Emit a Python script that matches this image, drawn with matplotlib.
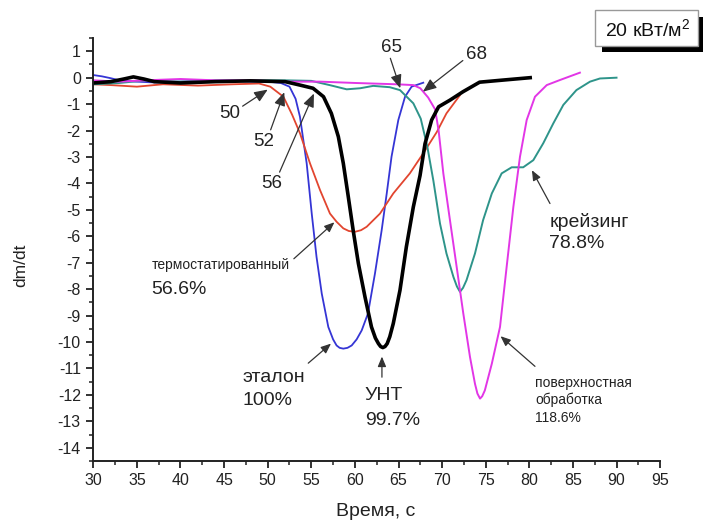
import matplotlib.pyplot as plt
from matplotlib.patches import Rectangle
from matplotlib.ticker import MultipleLocator

plt.rcParams['font.family'] = ['Liberation Sans', 'DejaVu Sans']
plt.rcParams['mathtext.default'] = 'regular'
plt.rcParams['axes.unicode_minus'] = False
plt.rcParams['lines.solid_joinstyle'] = 'round'

# эталон (blue)
etalon_t = [30, 31, 32, 33, 35, 37, 40, 43, 46, 48, 50, 51.5, 52.5, 53.2, 53.7, 54.47, 55.05, 55.6, 56.2, 56.95,
            57.5, 57.9, 58.25, 58.67, 59.15, 59.63, 60.2, 60.78, 61.5, 62.3, 63.07, 63.65, 64.2, 64.98, 65.75, 66.5, 67.84]
etalon_v = [0.1, 0.05, -0.02, -0.1, -0.15, -0.18, -0.15, -0.12, -0.12, -0.15, -0.15, -0.2, -0.34, -0.8, -1.48, -3.24, -5.14, -6.78, -8.17, -9.43,
            -9.9, -10.13, -10.22, -10.25, -10.22, -10.13, -9.9, -9.56, -8.92, -7.41, -5.77, -4.38, -2.99, -1.6, -0.72, -0.34, -0.19]

# УНТ (black)
unt_t = [30, 32, 33.5, 34.6, 35.8, 37, 40, 44, 48, 52, 53.7, 55.2, 56.4, 57.3, 58.1, 58.67, 59.24, 59.8, 60.4, 61.16,
         61.9, 62.35, 62.7, 62.95, 63.2, 63.45, 63.7, 64.0, 64.4, 65.17, 65.9, 66.7, 67.47, 68.04, 68.8, 69.6, 70.9, 72.4, 74.3, 77.0, 80.1]
unt_v = [-0.2, -0.15, -0.05, 0.03, -0.05, -0.15, -0.2, -0.15, -0.12, -0.15, -0.28, -0.4, -0.72, -1.35, -2.23, -3.24, -4.5, -5.77, -7.03, -8.3,
         -9.43, -9.85, -10.06, -10.17, -10.21, -10.17, -10.06, -9.8, -9.3, -8.04, -6.4, -4.89, -3.7, -2.5, -1.6, -1.1, -0.85, -0.53, -0.17, -0.09, 0.0]

# термостатированный (red)
termo_t = [30, 32, 35, 38, 42, 46, 49, 50.3, 51.8, 52.8, 53.7, 54.85, 56.0, 57.14, 57.9, 58.67, 59.3, 60.0, 60.7, 61.35, 62.88,
           64.4, 66.3, 67.84, 69.4, 70.5, 72.05]
termo_v = [-0.25, -0.28, -0.34, -0.25, -0.3, -0.25, -0.22, -0.34, -0.72, -1.4, -2.1, -3.24, -4.25, -5.14, -5.45, -5.7, -5.8, -5.83, -5.77, -5.64, -5.14,
           -4.38, -3.62, -2.86, -2.05, -1.35, -0.66]

# крейзинг (teal)
craze_t = [30, 33, 36, 40, 44, 48, 52, 55, 57.1, 59.06, 60.6, 62.1, 64.0, 65.17, 66.7, 67.55, 68.3, 69.0, 69.76, 70.5,
           71.3, 71.7, 72.05, 72.4, 72.8, 73.77, 74.7, 75.7, 76.83, 77.98, 79.3, 80.46, 81.6, 82.75, 83.9, 85.4, 86.96, 88.1, 90.0]
craze_v = [-0.25, -0.2, -0.1, -0.15, -0.1, -0.1, -0.1, -0.12, -0.28, -0.44, -0.4, -0.31, -0.36, -0.47, -0.97, -1.55, -2.6, -3.9, -5.52, -6.65,
           -7.54, -7.9, -8.1, -7.95, -7.66, -6.65, -5.39, -4.38, -3.62, -3.39, -3.39, -3.12, -2.48, -1.73, -1.03, -0.47, -0.15, -0.03, 0.0]

# поверхностная обработка (magenta)
surf_t = [30, 33, 36, 40, 44, 48, 52, 56, 60, 64.8, 66.7, 67.5, 68.4, 69.2, 69.6, 70.14, 70.9, 71.67, 72.43, 73.2, 73.77,
          74.05, 74.35, 74.6, 74.9, 75.7, 76.64, 77.4, 78.17, 78.93, 79.7, 80.65, 82.0, 83.5, 85.8]
surf_v = [-0.1, -0.15, -0.1, -0.05, -0.1, -0.1, -0.15, -0.15, -0.2, -0.25, -0.28, -0.4, -0.75, -1.2, -2.0, -3.62, -5.39, -7.16, -8.92, -10.57, -11.58,
          -11.95, -12.14, -12.05, -11.83, -10.82, -9.43, -7.16, -4.89, -2.99, -1.6, -0.72, -0.28, -0.09, 0.19]

fig = plt.figure(figsize=(7.03, 5.21), dpi=100)
ax = fig.add_axes([0.1327, 0.1152, 0.8063, 0.8118])

ax.plot(etalon_t, etalon_v, color='#3535d5', lw=1.3)
ax.plot(termo_t, termo_v, color='#e2452f', lw=1.3)
ax.plot(craze_t, craze_v, color='#2e948a', lw=1.4)
ax.plot(surf_t, surf_v, color='#e236e6', lw=1.4)
ax.plot(unt_t, unt_v, color='black', lw=2.6)

ax.set_xlim(30, 95)
ax.set_ylim(-14.5, 1.5)
ax.xaxis.set_major_locator(MultipleLocator(5))
ax.xaxis.set_minor_locator(MultipleLocator(2.5))
ax.yaxis.set_minor_locator(MultipleLocator(0.5))
ax.set_yticks(range(-14, 2))
ax.spines['top'].set_visible(False)
ax.spines['right'].set_visible(False)
for s in ['left', 'bottom']:
    ax.spines[s].set_linewidth(1.4)
    ax.spines[s].set_color('#222222')
ax.tick_params(which='major', direction='out', length=5, width=1.3, labelsize=11.5, colors='#222222', pad=4)
ax.tick_params(which='minor', direction='out', length=3, width=1.1, colors='#222222')

fig.text(0.029, 0.49, 'dm/dt', rotation=90, fontsize=12.5, ha='center', va='center', color='#222222')
fig.text(0.535, 0.018, 'Время, с', fontsize=14, ha='center', va='center', color='#222222')

arrow = dict(arrowstyle='-|>,head_length=0.6,head_width=0.25', color='#333333', lw=0.9, shrinkA=0, shrinkB=0)
tc = '#222222'
big = 14
small = 10
ax.annotate('50', xy=(50.0, -0.45), xytext=(45.6, -1.34), fontsize=13.5, color=tc, ha='center', va='center',
            arrowprops=dict(arrow, relpos=(1.0, 0.8)))
ax.annotate('52', xy=(51.9, -0.55), xytext=(49.5, -2.4), fontsize=13.5, color=tc, ha='center', va='center',
            arrowprops=dict(arrow, relpos=(0.8, 1.0)))
ax.annotate('56', xy=(55.3, -0.6), xytext=(50.5, -4.0), fontsize=13.5, color=tc, ha='center', va='center',
            arrowprops=dict(arrow, relpos=(0.8, 1.0)))
ax.annotate('65', xy=(65.2, -0.4), xytext=(64.2, 1.16), fontsize=13.5, color=tc, ha='center', va='center',
            arrowprops=dict(arrow, relpos=(0.4, 0.0)))
ax.annotate('68', xy=(67.8, -0.53), xytext=(73.9, 0.86), fontsize=13.5, color=tc, ha='center', va='center',
            arrowprops=dict(arrow, relpos=(0.0, 0.3)))

ax.annotate('', xy=(57.65, -5.47), xytext=(53.0, -6.85), arrowprops=arrow)
ax.text(36.7, -7.1, 'термостатированный', fontsize=small, color=tc, ha='left', va='center')
ax.text(36.7, -8.0, '56.6%', fontsize=big, color=tc, ha='left', va='center')

ax.annotate('', xy=(57.26, -10.06), xytext=(54.65, -10.8), arrowprops=arrow)
ax.text(47.1, -11.33, 'эталон', fontsize=big, color=tc, ha='left', va='center')
ax.text(47.1, -12.2, '100%', fontsize=big, color=tc, ha='left', va='center')

ax.annotate('', xy=(63.1, -10.55), xytext=(63.1, -11.33), arrowprops=arrow)
ax.text(61.15, -12.02, 'УНТ', fontsize=big, color=tc, ha='left', va='center')
ax.text(61.15, -12.97, '99.7%', fontsize=big, color=tc, ha='left', va='center')

ax.annotate('', xy=(80.3, -3.5), xytext=(82.37, -4.76), arrowprops=arrow)
ax.text(82.3, -5.45, 'крейзинг', fontsize=big, color=tc, ha='left', va='center')
ax.text(82.3, -6.27, '78.8%', fontsize=big, color=tc, ha='left', va='center')

ax.annotate('', xy=(76.7, -9.78), xytext=(80.65, -10.92), arrowprops=arrow)
ax.text(80.65, -11.55, 'поверхностная', fontsize=small, color=tc, ha='left', va='center')
ax.text(80.65, -12.2, 'обработка', fontsize=small, color=tc, ha='left', va='center')
ax.text(80.65, -12.88, '118.6%', fontsize=small, color=tc, ha='left', va='center')

# boxed label with shadow, top right
W, H = 703.0, 521.0
fig.patches.append(Rectangle((602 / W, 1 - 52 / H), 101 / W, 35 / H, transform=fig.transFigure,
                             facecolor='black', edgecolor='none', zorder=1))
fig.patches.append(Rectangle((595 / W, 1 - 46 / H), 103 / W, 36 / H, transform=fig.transFigure,
                             facecolor='white', edgecolor='#999999', lw=1.0, zorder=2))
fig.text(648 / W, 1 - 29 / H, '20 кВт/м$^2$', fontsize=14, ha='center', va='center', color='#111111', zorder=3)

fig.savefig('out.png', dpi=100)
